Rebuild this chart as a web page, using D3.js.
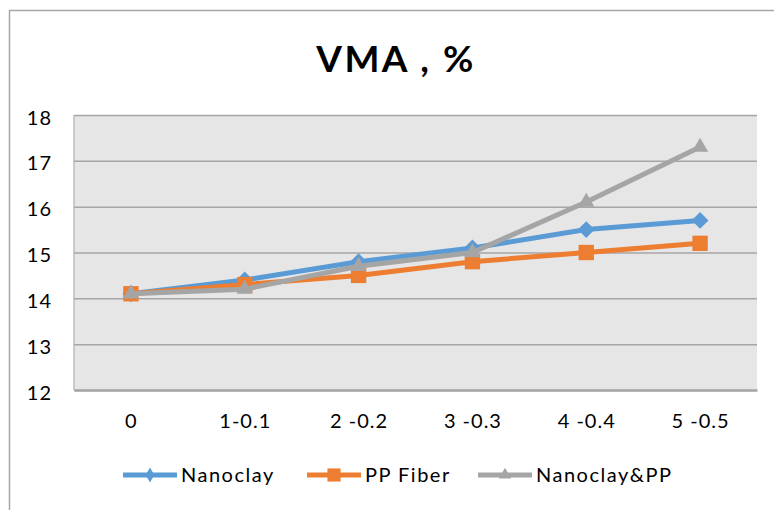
<!DOCTYPE html>
<html>
<head>
<meta charset="utf-8">
<script src="https://cdn.jsdelivr.net/npm/d3@7"></script>
<style>
  body { margin: 0; background: #fff; }
  svg text { font-family: Lato, "Open Sans", sans-serif; fill: #000; }
</style>
</head>
<body>
<div id="chart"></div>
<script>
const categories = ['0', '1-0.1', '2 -0.2', '3 -0.3', '4 -0.4', '5 -0.5'];
const nanoclay = [14.1, 14.4, 14.8, 15.1, 15.5, 15.7];
const ppFiber = [14.1, 14.3, 14.5, 14.8, 15.0, 15.2];
const nanoclayPP = [14.1, 14.2, 14.7, 15.0, 16.1, 17.3];
const yTicks = [12, 13, 14, 15, 16, 17, 18];

const series = [
  { name: 'Nanoclay', values: nanoclay, color: '#5b9bd5',
    symbol: d3.symbolDiamond2, size: 180, legendSymbol: d3.symbolDiamond, legendSize: 65 },
  { name: 'PP Fiber', values: ppFiber, color: '#ed7d31',
    symbol: d3.symbolSquare2, size: 300, legendSymbol: d3.symbolSquare2, legendSize: 220 },
  { name: 'Nanoclay&PP', values: nanoclayPP, color: '#a5a5a5',
    symbol: d3.symbolTriangle2, size: 190, legendSymbol: d3.symbolTriangle2, legendSize: 110 }
];

const width = 774, height = 510;
const margin = { top: 115, right: 17, bottom: 120, left: 74 };

const svg = d3.select('#chart').append('svg')
  .attr('width', width)
  .attr('height', height);

// outer chart border (runs off the right and bottom)
svg.append('rect')
  .attr('x', 9.5).attr('y', 10.5)
  .attr('width', 900).attr('height', 700)
  .attr('fill', 'none')
  .attr('stroke', '#a6a6a6')
  .attr('stroke-width', 1.5);

const x = d3.scalePoint()
  .domain(categories)
  .range([margin.left, width - margin.right])
  .padding(0.5);

const y = d3.scaleLinear()
  .domain([12, 18])
  .range([height - margin.bottom, margin.top]);

// title
svg.append('text')
  .attr('x', 396).attr('y', 72)
  .attr('text-anchor', 'middle')
  .style('font-size', '37px')
  .style('font-weight', 'bold')
  .style('letter-spacing', '2.5px')
  .text('VMA , %');

// plot background
svg.append('rect')
  .attr('x', margin.left).attr('y', margin.top)
  .attr('width', width - margin.right - margin.left)
  .attr('height', height - margin.bottom - margin.top)
  .attr('fill', '#e6e6e6')
  .attr('stroke', 'none');

svg.append('line')
  .attr('x1', margin.left).attr('x2', margin.left)
  .attr('y1', margin.top).attr('y2', height - margin.bottom)
  .attr('stroke', '#bdbdbd')
  .attr('stroke-width', 1.5);

// y axis, gridlines
const yAxis = svg.append('g')
  .attr('transform', `translate(${margin.left},0)`)
  .call(d3.axisLeft(y).tickValues(yTicks)
    .tickFormat(d3.format('d'))
    .tickSize(-(width - margin.right - margin.left))
    .tickPadding(22));
yAxis.select('.domain').remove();
yAxis.selectAll('.tick line')
  .attr('stroke', '#a6a6a6')
  .attr('stroke-width', 1.5);
yAxis.selectAll('.tick text')
  .attr('dy', '0.45em')
  .style('font-size', '20px')
  .style('letter-spacing', '1px');

// x axis
const xAxis = svg.append('g')
  .attr('transform', `translate(0,${height - margin.bottom})`)
  .call(d3.axisBottom(x).tickSize(0).tickPadding(24));
xAxis.select('.domain')
  .attr('stroke', '#a6a6a6')
  .attr('stroke-width', 2.5);
xAxis.selectAll('.tick text')
  .style('font-size', '20px')
  .style('letter-spacing', '1px');

// lines + markers
const line = d3.line()
  .x((d, i) => x(categories[i]))
  .y(d => y(d));

series.forEach(s => {
  svg.append('path')
    .datum(s.values)
    .attr('d', line)
    .attr('fill', 'none')
    .attr('stroke', s.color)
    .attr('stroke-width', 5)
    .attr('stroke-linejoin', 'round');

  svg.selectAll(null)
    .data(s.values)
    .join('path')
    .attr('d', d3.symbol().type(s.symbol).size(s.size))
    .attr('transform', (d, i) => `translate(${x(categories[i])},${y(d)})`)
    .attr('fill', s.color);
});

// legend
const legendX = [123, 307, 478];
const legend = svg.append('g');
series.forEach((s, i) => {
  const g = legend.append('g')
    .attr('transform', `translate(${legendX[i]},475)`);
  g.append('line')
    .attr('x1', 0).attr('x2', 54)
    .attr('stroke', s.color)
    .attr('stroke-width', 5);
  g.append('path')
    .attr('d', d3.symbol().type(s.legendSymbol).size(s.legendSize))
    .attr('transform', 'translate(27,0)')
    .attr('fill', s.color);
  g.append('text')
    .attr('x', 58).attr('y', 0)
    .attr('dy', '0.35em')
    .style('font-size', '20px')
    .style('letter-spacing', '1.5px')
    .text(s.name);
});
</script>
</body>
</html>
